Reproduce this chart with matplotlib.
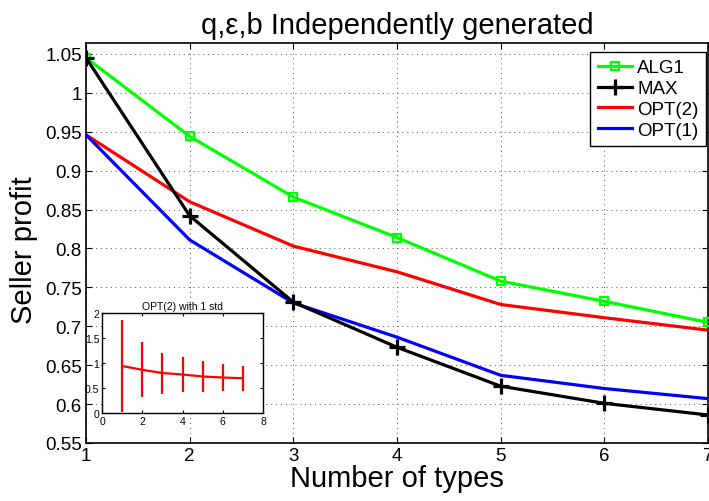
import matplotlib
matplotlib.use("Agg")
import matplotlib.pyplot as plt

plt.rcParams['font.family'] = ['Liberation Sans', 'DejaVu Sans']

# number of types on the x axis
n_types = [1, 2, 3, 4, 5, 6, 7]

# seller profit per method
alg1 = [1.045, 0.944, 0.866, 0.814, 0.758, 0.732, 0.705]
max_profit = [1.045, 0.842, 0.731, 0.673, 0.623, 0.601, 0.586]
opt2 = [0.946, 0.860, 0.803, 0.770, 0.728, 0.711, 0.695]
opt1 = [0.946, 0.811, 0.730, 0.686, 0.637, 0.620, 0.607]

# OPT(2) mean and one standard deviation for the inset
opt2_mean = [0.94, 0.864, 0.80, 0.77, 0.73, 0.71, 0.695]
opt2_std = [0.92, 0.55, 0.41, 0.35, 0.305, 0.27, 0.25]

W, H = 709, 502
fig = plt.figure(figsize=(W / 100, H / 100), dpi=100)
ax = fig.add_axes([86 / W, 1 - 444 / H, (708 - 86) / W, (444 - 44) / H])

ax.plot(n_types, alg1, color='#00ff00', lw=2.3, marker='s', ms=6,
        mfc='none', mec='#00ff00', mew=1.6, label='ALG1', zorder=4)
ax.plot(n_types, max_profit, color='black', lw=2.3, marker='+', ms=11,
        mew=2.3, label='MAX', zorder=5)
ax.plot(n_types, opt2, color='#ff0000', lw=2.3, label='OPT(2)', zorder=3)
ax.plot(n_types, opt1, color='#0000ff', lw=2.3, label='OPT(1)', zorder=3)

ax.set_xlim(1, 7)
ax.set_ylim(0.55, 1.064)
ax.set_xticks(n_types)
ax.set_yticks([0.55, 0.6, 0.65, 0.7, 0.75, 0.8, 0.85, 0.9, 0.95, 1.0, 1.05])
ax.set_yticklabels(['0.55', '0.6', '0.65', '0.7', '0.75', '0.8', '0.85',
                    '0.9', '0.95', '1', '1.05'])
ax.tick_params(direction='in', top=True, right=True, labelsize=13.5,
               length=4, width=0.8, pad=3)
ax.grid(True, linestyle=(0, (1, 4)), color='#555555', linewidth=0.7)
for s in ax.spines.values():
    s.set_linewidth(1.2)

ax.set_xlabel('Number of types', fontsize=21, labelpad=0)
ax.set_ylabel('Seller profit', fontsize=21)
ax.yaxis.set_label_coords(-0.077, 0.485)
ax.set_title('q,\u03b5,b Independently generated', fontsize=21, pad=7)

leg = ax.legend(loc='upper right', bbox_to_anchor=(1.0, 0.983),
                fontsize=13.5, fancybox=False, framealpha=1,
                edgecolor='black', handlelength=1.8, handletextpad=0.3,
                borderpad=0.4, labelspacing=0.2, borderaxespad=0.1)
leg.get_frame().set_linewidth(1.0)

# inset with the spread of OPT(2)
ins = fig.add_axes([102 / W, 1 - 414 / H, (263 - 102) / W, (414 - 314) / H])
ins.errorbar(n_types, opt2_mean, yerr=opt2_std, color='#ff0000', lw=1.6,
             elinewidth=1.6, capsize=0)
ins.set_xlim(0, 8)
ins.set_ylim(0, 2)
ins.set_xticks([0, 2, 4, 6, 8])
ins.set_yticks([0, 0.5, 1, 1.5, 2])
ins.set_yticklabels(['0', '0.5', '1', '1.5', '2'])
ins.tick_params(direction='in', top=True, right=True, labelsize=7.5,
                length=2, pad=2)
ins.set_title('OPT(2) with 1 std', fontsize=7.5, pad=3)
for s in ins.spines.values():
    s.set_linewidth(1.0)

fig.savefig('out.png', dpi=100)
